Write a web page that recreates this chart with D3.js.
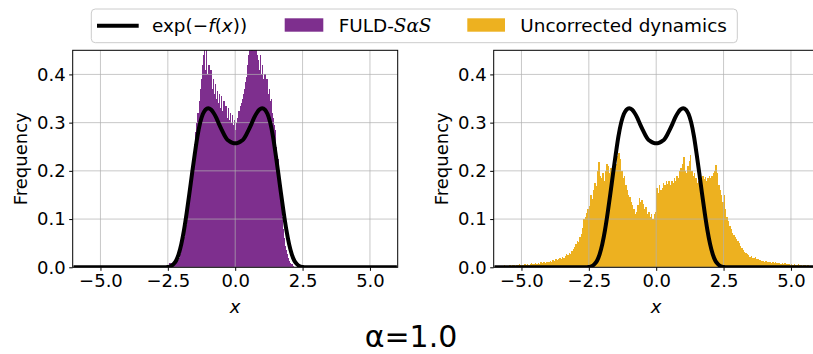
<!DOCTYPE html>
<html><head><meta charset="utf-8">
<script src="https://cdn.jsdelivr.net/npm/d3@7"></script>
<style>
body{margin:0;background:#fff}
svg{display:block}
text{font-family:"DejaVu Sans",sans-serif;fill:#000}
</style>
</head><body>
<svg id="c" width="813" height="354"></svg>
<script>
// ---------------- data ----------------
const xTicks = [-5, -2.5, 0, 2.5, 5];
const yTicks = [0, 0.1, 0.2, 0.3, 0.4];
const xDomain = [-6.03, 6.03];
const yDomain = [0, 0.45];

// FULD-SaS histogram (bin start, bin width, frequencies)
const fuldStart = -2.44, fuldWidth = 0.04;
const fuldVals = [
 0.008,0.009,0.009,0.010,0.011,0.011,0.012,0.013,0.015,0.020,
 0.028,0.038,0.050,0.062,0.075,0.088,0.105,0.120,0.140,0.165,
 0.185,0.210,0.232,0.255,0.280,0.300,0.320,0.345,0.370,0.390,
 0.420,0.440,0.470,0.410,0.480,0.400,0.420,0.390,0.410,0.370,
 0.390,0.360,0.380,0.350,0.365,0.340,0.360,0.330,0.355,0.325,
 0.345,0.320,0.335,0.310,0.330,0.305,0.320,0.300,0.315,0.295,
 0.305,0.285,0.300,0.310,0.325,0.335,0.340,0.350,0.360,0.370,
 0.385,0.395,0.420,0.440,0.460,0.480,0.470,0.500,0.480,0.460,
 0.490,0.440,0.430,0.410,0.440,0.400,0.420,0.390,0.400,0.380,
 0.390,0.360,0.370,0.345,0.350,0.320,0.310,0.295,0.285,0.250,
 0.225,0.190,0.160,0.130,0.105,0.080,0.060,0.045,0.035,0.027,
 0.020,0.014,0.009,0.006,0.003
];

// Uncorrected dynamics histogram
const uncStart = -6.0, uncWidth = 0.05;
const uncVals = [
 0,0,0.002,0.003,0.002,0.003,0.002,0.004,0.003,0.002,
 0.003,0.004,0.003,0.005,0.004,0.003,0.005,0.004,0.006,0.004,
 0.005,0.004,0.006,0.005,0.007,0.005,0.006,0.008,0.006,0.007,
 0.008,0.006,0.009,0.007,0.010,0.008,0.011,0.009,0.012,0.010,
 0.012,0.014,0.011,0.015,0.013,0.017,0.015,0.018,0.020,0.017,
 0.022,0.020,0.024,0.027,0.025,0.030,0.028,0.034,0.038,0.042,
 0.048,0.055,0.052,0.062,0.070,0.082,0.100,0.105,0.112,0.120,
 0.128,0.150,0.142,0.160,0.175,0.168,0.200,0.218,0.190,0.185,
 0.195,0.180,0.200,0.215,0.210,0.195,0.205,0.190,0.210,0.220,
 0.215,0.230,0.238,0.225,0.200,0.185,0.190,0.170,0.160,0.150,
 0.145,0.135,0.130,0.120,0.110,0.115,0.130,0.143,0.135,0.140,
 0.132,0.120,0.125,0.110,0.115,0.105,0.110,0.100,0.110,0.115,
 0.165,0.155,0.170,0.160,0.165,0.175,0.170,0.180,0.172,0.178,
 0.170,0.180,0.175,0.185,0.180,0.190,0.185,0.200,0.205,0.215,
 0.228,0.200,0.195,0.210,0.220,0.232,0.200,0.190,0.195,0.185,
 0.175,0.180,0.185,0.180,0.190,0.183,0.188,0.180,0.185,0.190,
 0.185,0.190,0.195,0.200,0.213,0.195,0.170,0.160,0.150,0.135,
 0.150,0.120,0.105,0.095,0.085,0.080,0.072,0.068,0.062,0.058,
 0.055,0.050,0.045,0.040,0.035,0.032,0.030,0.027,0.025,0.022,
 0.023,0.020,0.019,0.021,0.017,0.018,0.015,0.016,0.013,0.014,
 0.012,0.013,0.011,0.010,0.012,0.009,0.011,0.008,0.010,0.009,
 0.008,0.009,0.007,0.008,0.006,0.008,0.007,0.006,0.007,0.005,
 0.006,0.005,0.006,0.004,0.005,0.006,0.004,0.005,0.003,0.004,
 0.004,0.003,0.004,0.003,0.002,0.003,0.002,0.002,0,0
];

// exp(-f(x)) curve
const curveX = [-6.0,-2.6,-2.5,-2.4,-2.3,-2.2,-2.1,-2.0,-1.9,-1.8,-1.7,-1.6,-1.5,-1.4,-1.3,-1.2,-1.1,-1.0,-0.9,-0.8,-0.7,-0.6,-0.5,-0.4,-0.3,-0.2,-0.1,
  0.0,0.1,0.2,0.3,0.4,0.5,0.6,0.7,0.8,0.9,1.0,1.1,1.2,1.3,1.4,1.5,1.6,1.7,1.8,1.9,2.0,2.1,2.2,2.3,2.4,2.5,2.6,6.0];
const curveY = [0,0,0.0007,0.002,0.006,0.013,0.027,0.048,0.077,0.113,0.153,0.195,0.235,0.272,0.300,0.318,0.327,0.330,0.327,0.320,0.310,0.297,0.285,0.274,0.265,0.261,0.258,
  0.257,0.258,0.261,0.265,0.274,0.285,0.297,0.310,0.320,0.327,0.330,0.327,0.318,0.300,0.272,0.235,0.195,0.153,0.113,0.077,0.048,0.027,0.013,0.006,0.002,0.0007,0,0];

const legendLabels = ["exp(−f(x))", "FULD-SαS", "Uncorrected dynamics"];
const title = "α=1.0";

// ---------------- drawing ----------------
const svg = d3.select("#c");
const purple = "#7E2F8E", yellow = "#EDB120";
const W = 325, plotTop = 50.3, plotBottom = 267.3;
const y = d3.scaleLinear().domain(yDomain).range([plotBottom, plotTop]);
const fs = 18;

const panels = [
  {x0: 72.7, start: fuldStart, w: fuldWidth, vals: fuldVals, color: purple, ylabX: 27},
  {x0: 493.7, start: uncStart, w: uncWidth, vals: uncVals, color: yellow, ylabX: 448}
];

const defs = svg.append("defs");
panels.forEach((p, i) => {
  const x = d3.scaleLinear().domain(xDomain).range([p.x0, p.x0 + W]);
  const cid = "clip" + i;
  defs.append("clipPath").attr("id", cid).append("rect")
    .attr("x", p.x0).attr("y", plotTop).attr("width", W).attr("height", plotBottom - plotTop);
  const g = svg.append("g");
  const plot = g.append("g").attr("clip-path", `url(#${cid})`);

  // bars
  const bins = p.vals.map((v, k) => ({x0: p.start + k * p.w, v}));
  plot.append("g").attr("shape-rendering", "crispEdges")
    .selectAll("rect").data(bins).join("rect")
    .attr("x", d => x(d.x0))
    .attr("width", d => x(d.x0 + p.w) - x(d.x0) + 0.2)
    .attr("y", d => y(d.v))
    .attr("height", d => y(0) - y(d.v))
    .attr("fill", p.color);

  // grid
  const grid = plot.append("g").attr("stroke", "#b0b0b0").attr("stroke-width", 1).attr("stroke-opacity", 0.7);
  grid.selectAll(".gx").data(xTicks).join("line")
    .attr("x1", d => x(d)).attr("x2", d => x(d)).attr("y1", plotTop).attr("y2", plotBottom);
  grid.selectAll(".gy").data(yTicks).join("line")
    .attr("x1", p.x0).attr("x2", p.x0 + W).attr("y1", d => y(d)).attr("y2", d => y(d));

  // curve
  const pts = curveX.map((cx, k) => [cx, curveY[k]]);
  plot.append("path").datum(pts)
    .attr("d", d3.line().x(d => x(d[0])).y(d => y(d[1])).curve(d3.curveMonotoneX))
    .attr("fill", "none").attr("stroke", "#000").attr("stroke-width", 4)
    .attr("stroke-linejoin", "round");

  // frame
  g.append("rect").attr("x", p.x0).attr("y", plotTop).attr("width", W).attr("height", plotBottom - plotTop)
    .attr("fill", "none").attr("stroke", "#000").attr("stroke-width", 1);

  // axes
  const ax = g.append("g").attr("transform", `translate(0,${plotBottom})`)
    .call(d3.axisBottom(x).tickValues(xTicks).tickFormat(d3.format(".1f")).tickSize(3.5).tickPadding(3.5));
  const ay = g.append("g").attr("transform", `translate(${p.x0},0)`)
    .call(d3.axisLeft(y).tickValues(yTicks).tickFormat(d3.format(".1f")).tickSize(3.5).tickPadding(3.5));
  [ax, ay].forEach(a => {
    a.select(".domain").remove();
    a.selectAll("text").attr("font-size", fs).attr("font-family", "DejaVu Sans").attr("fill", "#000");
    a.selectAll("line").attr("stroke", "#000");
  });

  // labels
  g.append("text").attr("x", x(0)).attr("y", 313).attr("text-anchor", "middle")
    .attr("font-size", fs).attr("font-style", "italic").text("x");
  g.append("text").attr("transform", `translate(${p.ylabX},${(plotTop + plotBottom) / 2}) rotate(-90)`)
    .attr("text-anchor", "middle").attr("font-size", fs).text("Frequency");
});

// legend
const lg = svg.append("g");
lg.append("rect").attr("x", 91.3).attr("y", 9).attr("width", 646).attr("height", 33.7)
  .attr("rx", 4).attr("fill", "#fff").attr("fill-opacity", 0.8).attr("stroke", "#cccccc").attr("stroke-width", 1);
lg.append("line").attr("x1", 97).attr("x2", 138.7).attr("y1", 25.7).attr("y2", 25.7)
  .attr("stroke", "#000").attr("stroke-width", 4);
const lfs = 18.4;
const t1 = lg.append("text").attr("x", 152).attr("y", 32.3).attr("font-size", lfs);
t1.append("tspan").text("exp(−");
t1.append("tspan").attr("font-style", "italic").text("f");
t1.append("tspan").text("(");
t1.append("tspan").attr("font-style", "italic").text("x");
t1.append("tspan").text("))");
lg.append("rect").attr("x", 284.7).attr("y", 18.3).attr("width", 38.6).attr("height", 13.4).attr("fill", purple);
const t2 = lg.append("text").attr("x", 338.7).attr("y", 32.3).attr("font-size", lfs);
t2.append("tspan").text("FULD-");
t2.append("tspan").attr("font-style", "italic").attr("font-family", "DejaVu Serif").text("SαS");
lg.append("rect").attr("x", 467.3).attr("y", 18.3).attr("width", 37.7).attr("height", 13.4).attr("fill", yellow);
lg.append("text").attr("x", 520.3).attr("y", 32.3).attr("font-size", lfs).text(legendLabels[2]);

// title
svg.append("text").attr("x", 411).attr("y", 347).attr("text-anchor", "middle")
  .attr("font-size", 30).text(title);
</script>
</body></html>
